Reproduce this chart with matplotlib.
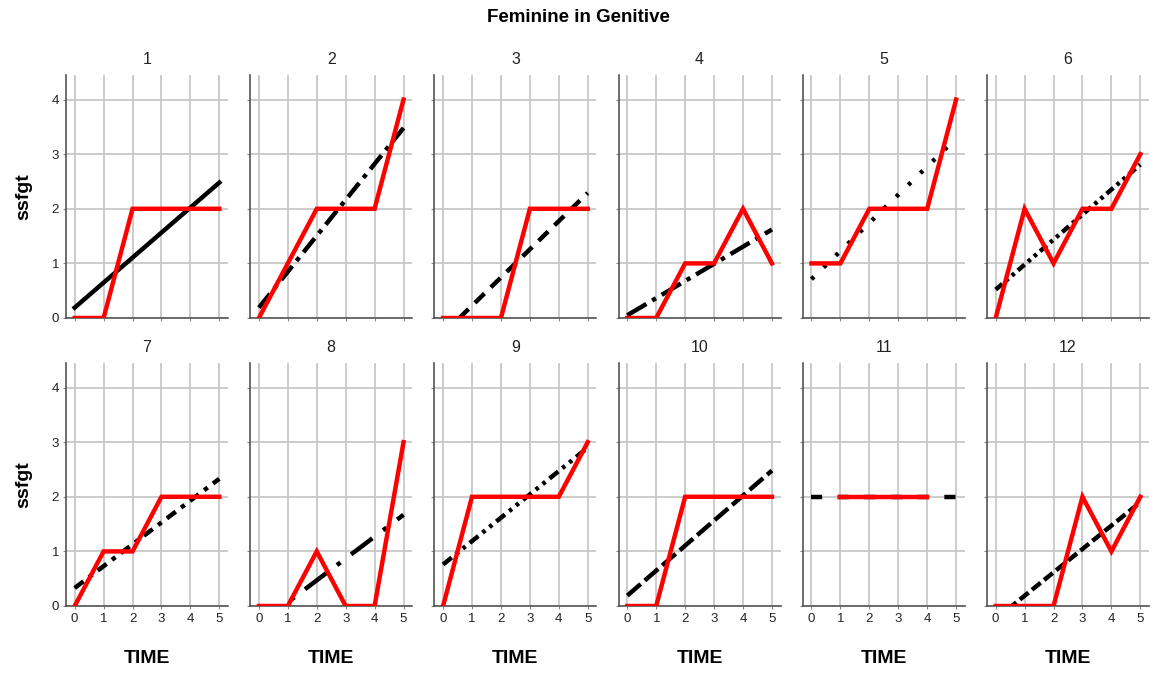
import matplotlib
matplotlib.use("Agg")
import matplotlib.pyplot as plt

plt.rcParams['font.family'] = ['Liberation Sans', 'DejaVu Sans']

# time points and observed ssfgt per case (None = missing)
time = [0, 1, 2, 3, 4, 5]
cases = ['1', '2', '3', '4', '5', '6', '7', '8', '9', '10', '11', '12']
ssfgt = [
    [0, 0, 2, 2, 2, 2],
    [0, 1, 2, 2, 2, 4],
    [0, 0, 0, 2, 2, 2],
    [0, 0, 1, 1, 2, 1],
    [1, 1, 2, 2, 2, 4],
    [0, 2, 1, 2, 2, 3],
    [0, 1, 1, 2, 2, 2],
    [0, 0, 1, 0, 0, 3],
    [0, 2, 2, 2, 2, 3],
    [0, 0, 2, 2, 2, 2],
    [None, 2, 2, 2, 2, None],
    [0, 0, 0, 2, 1, 2],
]
# linear fit lines, value at TIME=0 and TIME=5
fit_start = [0.19, 0.19, -0.29, 0.05, 0.71, 0.52, 0.33, -0.33, 0.76, 0.19, 2.0, -0.24]
fit_end = [2.48, 3.48, 2.29, 1.62, 3.29, 2.81, 2.33, 1.67, 2.90, 2.48, 2.0, 1.90]

# SPSS-like cycling line styles for the fit lines
fit_styles = ['-', (0, (4, 1.5, 1, 1.5)), (0, (3, 2)), (0, (5, 1.5, 1, 1.5)),
              (0, (0.8, 3)), (0, (2, 1, 0.8, 1, 0.8, 1)), (0, (2.5, 1.5, 1, 1.5)),
              (0, (6, 3, 1, 3)), (0, (2.5, 1.2, 0.8, 1.2, 0.8, 1.2)), (0, (4, 1.2)),
              (0, (2.5, 3.5)), (0, (2.5, 1))]

W, H = 1156, 677
fig = plt.figure(figsize=(W / 100, H / 100), dpi=100)

left0, pitch, aw = 66, 184.2, 162
row_tops = [75, 363]
ah = 243

for i in range(12):
    r, c = divmod(i, 6)
    x0 = left0 + c * pitch
    y_top = row_tops[r]
    ax = fig.add_axes([x0 / W, 1 - (y_top + ah) / H, aw / W, ah / H])

    ax.plot([time[0], time[-1]], [fit_start[i], fit_end[i]], color='black',
            lw=3.2, linestyle=fit_styles[i], zorder=3)
    xs = [t for t, v in zip(time, ssfgt[i]) if v is not None]
    ys = [v for v in ssfgt[i] if v is not None]
    ax.plot(xs, ys, color='#ff0000', lw=3.2, zorder=4, solid_joinstyle='miter')

    ax.set_xlim(-0.3, 5.3)
    ax.set_ylim(0, 4.45)
    ax.set_xticks(time)
    ax.set_yticks([0, 1, 2, 3, 4])
    ax.grid(True, color='#c8c8c8', lw=1.3)
    ax.set_axisbelow(True)
    for s in ['top', 'right']:
        ax.spines[s].set_visible(False)
    for s in ['left', 'bottom']:
        ax.spines[s].set_color('#555555')
        ax.spines[s].set_linewidth(1.2)
    ax.tick_params(length=2, color='#888888', labelsize=9.5, pad=3,
                   labelcolor='#222222')
    ax.set_title(cases[i], fontsize=11.5, pad=8, color='#222222')

    if c != 0:
        ax.tick_params(labelleft=False)
    else:
        ax.set_ylabel('ssfgt', fontsize=14, fontweight='bold', labelpad=14)
    if r != 1:
        ax.tick_params(labelbottom=False)
    else:
        ax.set_xlabel('TIME', fontsize=14, fontweight='bold', labelpad=18)

fig.text(0.5, 1 - 18 / H, 'Feminine in Genitive', ha='center', va='center',
         fontsize=13.5, fontweight='bold')

fig.savefig('out.png', dpi=100)
